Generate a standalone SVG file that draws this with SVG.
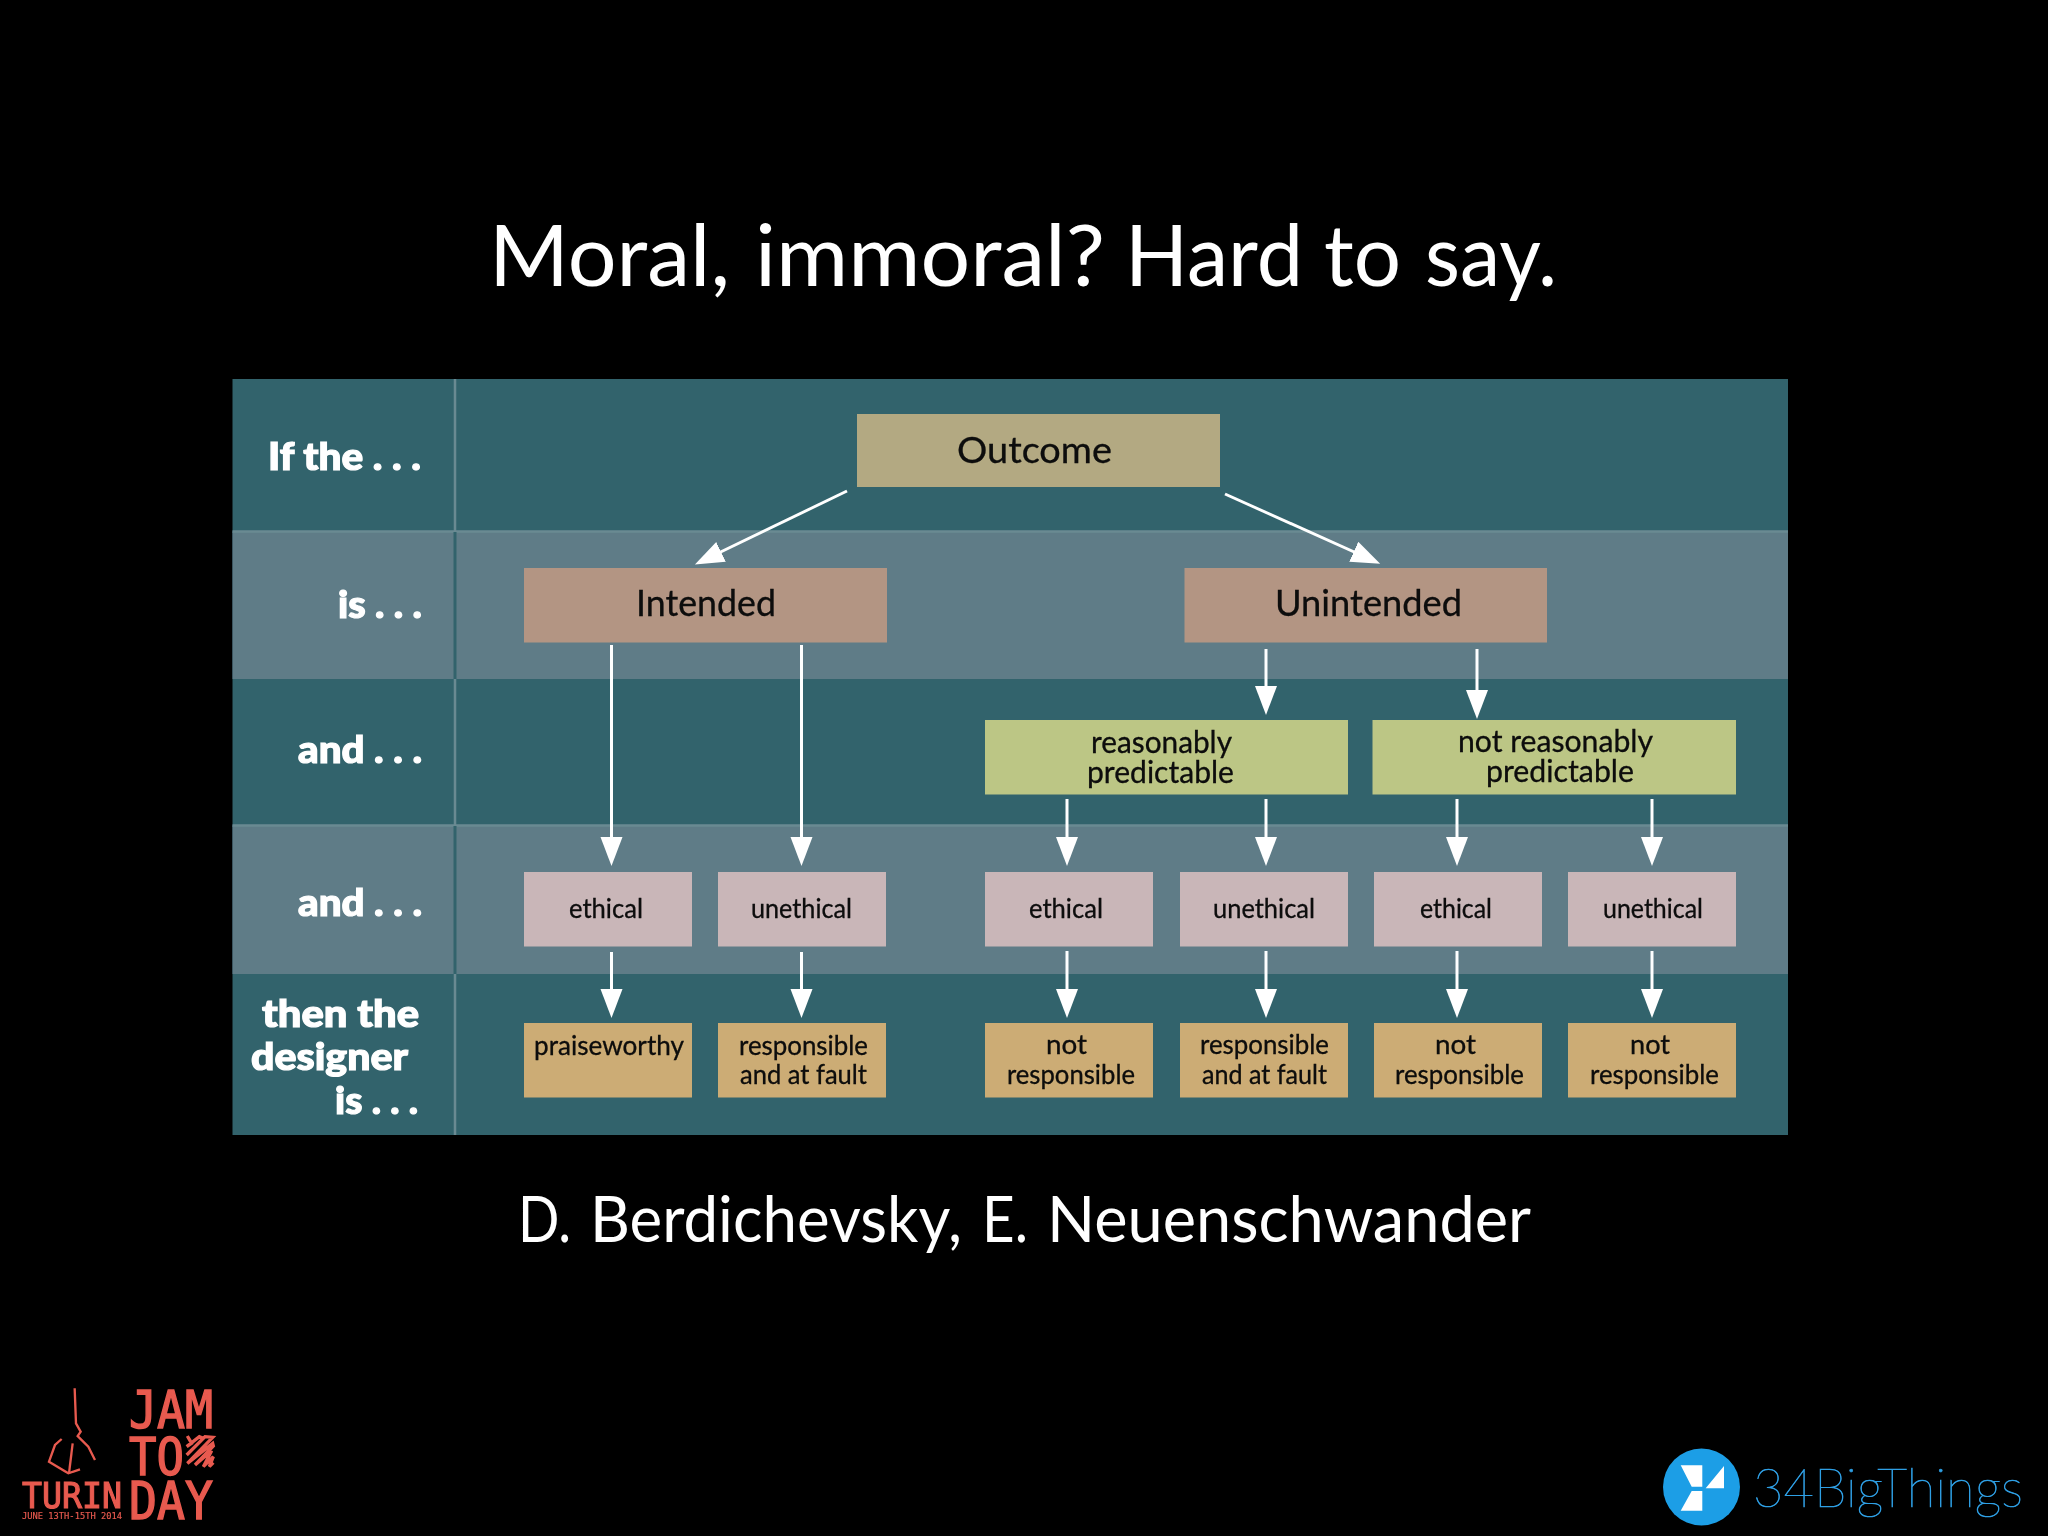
<svg xmlns="http://www.w3.org/2000/svg" width="2048" height="1536" viewBox="0 0 2048 1536">
<style>
text{font-family:"Lato","Liberation Sans",sans-serif;fill:#0a0a0a}
.h{fill:#fff;font-size:85px}
.c{fill:#fff;font-size:64px}
.l{fill:#fff;font-weight:900;font-size:38px;stroke:#fff;stroke-width:1.2px}
.b{font-size:37px;stroke:#0a0a0a;stroke-width:.3px}
.m{font-size:31px;stroke:#0a0a0a;stroke-width:.3px}
.s{font-size:27px;stroke:#0a0a0a;stroke-width:.3px}
.d{fill:#33636c}
.p{fill:#5e7c87}
.r{fill:#e85a4f;stroke:#e85a4f;font-family:"DejaVu Sans Mono","Liberation Mono",monospace}
.sep{stroke:#6a8a92;stroke-width:2.5}
.sepd{stroke:#33636c;stroke-width:3}
.n1{fill:#b3a982}.n2{fill:#b39583}.n3{fill:#bcc685}.n4{fill:#c9b6b8}.n5{fill:#ccac74}
#connectors path{fill:none;stroke:#fff;stroke-width:3;marker-end:url(#head)}
</style>
<defs>
<marker id="head" markerUnits="userSpaceOnUse" markerWidth="32" markerHeight="24" refX="20" refY="11" orient="auto">
<path d="M0,0 L29,11 L0,22 Z" fill="#fff"/>
</marker>
<filter id="soft" filterUnits="userSpaceOnUse" x="0" y="0" width="2048" height="1536"><feGaussianBlur stdDeviation="0.6"/></filter>
</defs>
<rect width="2048" height="1536" fill="#000"/>
<g filter="url(#soft)">
<text class="h" y="286"><tspan x="489" textLength="241" lengthAdjust="spacingAndGlyphs">Moral,</tspan> <tspan x="755" textLength="350" lengthAdjust="spacingAndGlyphs">immoral?</tspan> <tspan x="1125" textLength="178" lengthAdjust="spacingAndGlyphs">Hard</tspan> <tspan x="1324" textLength="77" lengthAdjust="spacingAndGlyphs">to</tspan> <tspan x="1425" textLength="132" lengthAdjust="spacingAndGlyphs">say.</tspan></text>
<g id="panel">
<rect class="d" x="232.5" y="379" width="1555.5" height="756"/>
<rect class="p" x="232.5" y="531.5" width="1555.5" height="147.5"/>
<rect class="p" x="232.5" y="825.5" width="1555.5" height="148.5"/>
<path class="sep" d="M232.5,531.5H1788M232.5,825.5H1788M455,379V531M455,679V825M455,974V1135"/>
<path class="sepd" d="M455,532V679M455,826V974"/>
</g>
<g id="row-labels">
<text class="l" x="268" y="470" textLength="153" lengthAdjust="spacingAndGlyphs">If the . . .</text>
<text class="l" x="338" y="618" textLength="84" lengthAdjust="spacingAndGlyphs">is . . .</text>
<text class="l" x="298" y="763" textLength="124" lengthAdjust="spacingAndGlyphs">and . . .</text>
<text class="l" x="298" y="916" textLength="124" lengthAdjust="spacingAndGlyphs">and . . .</text>
<text class="l" x="262" y="1027" textLength="157" lengthAdjust="spacingAndGlyphs">then the</text>
<text class="l" x="251" y="1070" textLength="157" lengthAdjust="spacingAndGlyphs">designer</text>
<text class="l" x="335" y="1114" textLength="83" lengthAdjust="spacingAndGlyphs">is . . .</text>
</g>
<g id="connectors">
<path d="M847,491L703,560.5"/>
<path d="M1225,494L1372,560"/>
<path d="M611.5,645V857"/>
<path d="M801.5,645V857"/>
<path d="M1266,649V706"/>
<path d="M1477,649V710"/>
<path d="M1067,799V857"/>
<path d="M1266,799V857"/>
<path d="M1457,799V857"/>
<path d="M1652,799V857"/>
<path d="M611.5,952V1009"/>
<path d="M801.5,952V1009"/>
<path d="M1067,951V1009"/>
<path d="M1266,951V1009"/>
<path d="M1457,951V1009"/>
<path d="M1652,951V1009"/>
</g>
<g id="outcome"><rect class="n1" x="857" y="414" width="363" height="73"/><text class="b" x="957" y="463" textLength="155" lengthAdjust="spacingAndGlyphs">Outcome</text></g>
<g id="intended"><rect class="n2" x="524" y="568" width="363" height="74.5"/><text class="b" x="636" y="616" textLength="140" lengthAdjust="spacingAndGlyphs">Intended</text></g>
<g id="unintended"><rect class="n2" x="1184.500" y="568" width="362.500" height="74.5"/><text class="b" x="1275" y="616" textLength="187" lengthAdjust="spacingAndGlyphs">Unintended</text></g>
<g id="reasonably-predictable"><rect class="n3" x="985" y="720" width="363" height="74.5"/><text class="m" x="1091" y="753" textLength="141" lengthAdjust="spacingAndGlyphs">reasonably</text><text class="m" x="1087" y="783" textLength="147" lengthAdjust="spacingAndGlyphs">predictable</text></g>
<g id="not-reasonably-predictable"><rect class="n3" x="1372.5" y="720" width="363.5" height="74.5"/><text class="m" x="1458" y="752" textLength="195" lengthAdjust="spacingAndGlyphs">not reasonably</text><text class="m" x="1486" y="782" textLength="148" lengthAdjust="spacingAndGlyphs">predictable</text></g>
<g id="ethical-1"><rect class="n4" x="524" y="872" width="168" height="74.5"/><text class="s" x="569" y="918" textLength="74" lengthAdjust="spacingAndGlyphs">ethical</text></g>
<g id="unethical-1"><rect class="n4" x="718" y="872" width="168" height="74.5"/><text class="s" x="751" y="918" textLength="101" lengthAdjust="spacingAndGlyphs">unethical</text></g>
<g id="ethical-2"><rect class="n4" x="985" y="872" width="168" height="74.5"/><text class="s" x="1029" y="918" textLength="74" lengthAdjust="spacingAndGlyphs">ethical</text></g>
<g id="unethical-2"><rect class="n4" x="1180" y="872" width="168" height="74.5"/><text class="s" x="1213" y="918" textLength="102" lengthAdjust="spacingAndGlyphs">unethical</text></g>
<g id="ethical-3"><rect class="n4" x="1374" y="872" width="168" height="74.5"/><text class="s" x="1420" y="918" textLength="72" lengthAdjust="spacingAndGlyphs">ethical</text></g>
<g id="unethical-3"><rect class="n4" x="1568" y="872" width="168" height="74.5"/><text class="s" x="1603" y="918" textLength="100" lengthAdjust="spacingAndGlyphs">unethical</text></g>
<g id="praiseworthy"><rect class="n5" x="524" y="1023" width="168" height="74.5"/><text class="s" x="534" y="1055" textLength="150" lengthAdjust="spacingAndGlyphs">praiseworthy</text></g>
<g id="responsible-1"><rect class="n5" x="718" y="1023" width="168" height="74.5"/><text class="s" x="739" y="1055" textLength="129" lengthAdjust="spacingAndGlyphs">responsible</text><text class="s" x="740" y="1084" textLength="127" lengthAdjust="spacingAndGlyphs">and at fault</text></g>
<g id="not-responsible-1"><rect class="n5" x="985" y="1023" width="168" height="74.5"/><text class="s" x="1046" y="1054" textLength="41" lengthAdjust="spacingAndGlyphs">not</text><text class="s" x="1007" y="1084" textLength="128" lengthAdjust="spacingAndGlyphs">responsible</text></g>
<g id="responsible-2"><rect class="n5" x="1180" y="1023" width="168" height="74.5"/><text class="s" x="1200" y="1054" textLength="129" lengthAdjust="spacingAndGlyphs">responsible</text><text class="s" x="1202" y="1084" textLength="125" lengthAdjust="spacingAndGlyphs">and at fault</text></g>
<g id="not-responsible-2"><rect class="n5" x="1374" y="1023" width="168" height="74.5"/><text class="s" x="1435" y="1054" textLength="41" lengthAdjust="spacingAndGlyphs">not</text><text class="s" x="1395" y="1084" textLength="129" lengthAdjust="spacingAndGlyphs">responsible</text></g>
<g id="not-responsible-3"><rect class="n5" x="1568" y="1023" width="168" height="74.5"/><text class="s" x="1630" y="1054" textLength="40" lengthAdjust="spacingAndGlyphs">not</text><text class="s" x="1590" y="1084" textLength="129" lengthAdjust="spacingAndGlyphs">responsible</text></g>
<text class="c" y="1242"><tspan x="518" textLength="53" lengthAdjust="spacingAndGlyphs">D.</tspan> <tspan x="590" textLength="372" lengthAdjust="spacingAndGlyphs">Berdichevsky,</tspan> <tspan x="982" textLength="46" lengthAdjust="spacingAndGlyphs">E.</tspan> <tspan x="1047" textLength="484" lengthAdjust="spacingAndGlyphs">Neuenschwander</tspan></text>
<g id="jam-logo">
<text class="r" x="129" y="1428" font-size="52" stroke-width="1.5" textLength="84" lengthAdjust="spacingAndGlyphs">JAM</text>
<text class="r" x="129" y="1475" font-size="52" stroke-width="1.5" textLength="55" lengthAdjust="spacingAndGlyphs">TO</text>
<text class="r" x="129" y="1519" font-size="52" stroke-width="1.5" textLength="84" lengthAdjust="spacingAndGlyphs">DAY</text>
<text class="r" x="22" y="1508" font-size="36" stroke-width="1.2" textLength="100" lengthAdjust="spacingAndGlyphs">TURIN</text>
<text class="r" x="22" y="1519" font-size="9.5" stroke-width=".2" textLength="100" lengthAdjust="spacingAndGlyphs">JUNE 13TH-15TH 2014</text>
<g transform="translate(0,1360) scale(.3333)" fill="none" stroke="#e85a4f" stroke-width="7">
<path d="M224,85L228,190L242,215L233,228L265,260L285,300"/>
<path d="M185,237L165,255L147,305L205,340L240,328"/>
<path d="M218,250L207,340"/>
</g>
<path transform="translate(170,1420) scale(.3333)" fill="none" stroke="#e85a4f" stroke-width="10" d="M52,48L65,70L50,80L88,50L100,55L50,105L105,50L128,52L52,130L128,70L130,78L75,135L125,92L100,140L130,110L118,140L130,128"/>
</g>
<g id="bigthings-logo">
<circle cx="1701.500" cy="1487" r="38.5" fill="#1f9ee6"/>
<path fill="#fff" d="M1680.700,1465.300H1702.300V1486.700H1691.700ZM1691.700,1491H1702.300V1510.700H1680.700ZM1724,1466V1488.300H1705.700Z"/>
<text x="1753" y="1507" font-size="54" font-weight="100" textLength="270" lengthAdjust="spacingAndGlyphs" style="fill:#2f9fe4;stroke:#2f9fe4;stroke-width:.7px;font-family:Lato,sans-serif">34BigThings</text>
</g>
</g>
</svg>
